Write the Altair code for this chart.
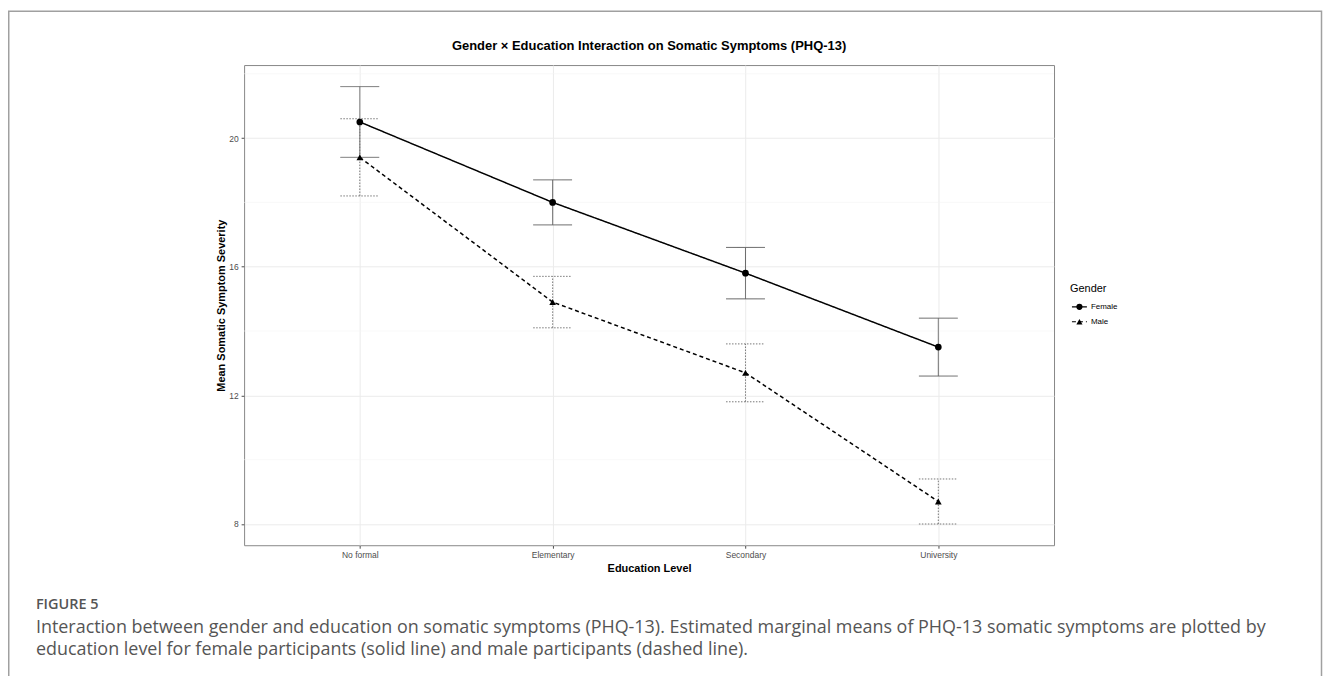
import altair as alt
import pandas as pd

# ---- data ----
education = ["No formal", "Elementary", "Secondary", "University"]
genders = ["Female", "Male"]
female_mean = [20.5, 18.0, 15.8, 13.5]
female_low = [19.4, 17.3, 15.0, 12.6]
female_high = [21.6, 18.7, 16.6, 14.4]
male_mean = [19.4, 14.9, 12.7, 8.7]
male_low = [18.2, 14.1, 11.8, 8.0]
male_high = [20.6, 15.7, 13.6, 9.4]
y_major = [8, 12, 16, 20]
y_minor = [10, 14, 18, 22]
y_domain = [7.34, 22.27]

title_text = "Gender \u00d7 Education Interaction on Somatic Symptoms (PHQ-13)"
x_title = "Education Level"
y_title = "Mean Somatic Symptom Severity"
legend_title = "Gender"
caption_label = "FIGURE 5"
caption_lines = [
    "Interaction between gender and education on somatic symptoms (PHQ-13). Estimated marginal means of PHQ-13 somatic symptoms are plotted by",
    "education level for female participants (solid line) and male participants (dashed line).",
]

rows = []
for i, e in enumerate(education):
    rows.append(dict(Education=e, Gender="Female", mean=female_mean[i],
                     low=female_low[i], high=female_high[i]))
    rows.append(dict(Education=e, Gender="Male", mean=male_mean[i],
                     low=male_low[i], high=male_high[i]))
df = pd.DataFrame(rows)

legend_df = pd.DataFrame({"Gender": genders})

W, H = 813, 482
PAD_L, PAD_T, PAD_R, PAD_B = 237, 56, 270, 130


def px(page_x):
    return page_x - 8 - PAD_L


def py(page_y):
    return page_y - 8 - PAD_T


y_scale = alt.Scale(domain=y_domain, nice=False, zero=False)
x_enc = alt.X("Education:N", sort=education,
              scale=alt.Scale(type="point", padding=0.6),
              axis=alt.Axis(title=x_title, labelAngle=0, grid=True,
                            gridColor="#ebebeb", gridWidth=1,
                            tickSize=3, labelPadding=2.5, titlePadding=3))
y_axis = alt.Axis(title=y_title, values=y_major, grid=True,
                  gridColor="#ebebeb", gridWidth=1, tickSize=3,
                  labelPadding=3, titlePadding=2)

dash_scale = alt.Scale(domain=genders, range=[[1, 0], [4, 3]])
shape_scale = alt.Scale(domain=genders, range=["circle", "triangle-up"])
err_style = {"Female": dict(color="#666666", strokeDash=[1, 0]),
             "Male": dict(color="#777777", strokeDash=[1.5, 1.5])}

base = alt.Chart(df)

minor = alt.Chart(pd.DataFrame({"v": y_minor})).mark_rule(
    color="#f3f3f3", strokeWidth=0.6
).encode(y=alt.Y("v:Q", scale=y_scale, axis=y_axis))

err_layers = []
for g in genders:
    sub = base.transform_filter(alt.datum.Gender == g)
    st = err_style[g]
    err_layers.append(sub.mark_rule(strokeWidth=1, **st).encode(
        x=x_enc,
        y=alt.Y("low:Q", scale=y_scale, axis=y_axis),
        y2="high:Q",
    ))
    for field in ["low", "high"]:
        err_layers.append(sub.mark_rule(strokeWidth=1, xOffset=-19.5,
                                        x2Offset=19.5, **st).encode(
            x=x_enc,
            x2=alt.X2("Education"),
            y=alt.Y(f"{field}:Q", scale=y_scale, axis=y_axis),
        ))

lines = base.mark_line(strokeWidth=1.5, color="black").encode(
    x=x_enc,
    y=alt.Y("mean:Q", scale=y_scale, axis=y_axis),
    strokeDash=alt.StrokeDash("Gender:N", scale=dash_scale, legend=None),
    detail="Gender:N",
)

points = base.mark_point(filled=True, color="black", opacity=1, size=45).encode(
    x=x_enc,
    y=alt.Y("mean:Q", scale=y_scale, axis=y_axis),
    shape=alt.Shape("Gender:N", scale=shape_scale, legend=None),
)

one = pd.DataFrame({"k": [0]})

frame = alt.Chart(one).mark_rect(
    filled=False, stroke="#a0a0a0", strokeWidth=1.5, clip=False
).encode(
    x=alt.value(px(8.75)), x2=alt.value(px(1326.5)),
    y=alt.value(py(10)), y2=alt.value(H + PAD_B + 40),
)

title_mark = alt.Chart(one).mark_text(
    align="center", baseline="middle", font="Liberation Sans", fontSize=13,
    fontWeight="bold", color="black"
).encode(x=alt.value(W / 2), y=alt.value(py(45)), text=alt.value(title_text))

cap_label = alt.Chart(one).mark_text(
    align="left", baseline="middle", font="Open Sans", fontSize=14.5,
    fontWeight=600, color="#555555"
).encode(x=alt.value(px(36)), y=alt.value(py(606)), text=alt.value(caption_label))

cap_text = alt.Chart(one).mark_text(
    align="left", baseline="middle", font="Open Sans", fontSize=18,
    color="#555555", lineHeight=22.5
).encode(x=alt.value(px(36)), y=alt.value(py(629)), text=alt.value(caption_lines))

main = alt.layer(
    minor, *err_layers, lines, points,
    frame, title_mark, cap_label, cap_text
)

# ---- legend (ggplot style: line + point keys) ----
leg_y = alt.Y("Gender:N", scale=alt.Scale(type="point", domain=genders,
                                          range=[py(306.7), py(321.7)], padding=0),
              axis=None)
leg_title = alt.Chart(one).mark_text(
    align="left", baseline="middle", font="Liberation Sans", fontSize=11,
    color="black"
).encode(x=alt.value(px(1074)), y=alt.value(py(289)), text=alt.value(legend_title))
leg_line = alt.Chart(legend_df).mark_rule(strokeWidth=1.2, color="black").encode(
    x=alt.value(px(1076)), x2=alt.value(px(1091)), y=leg_y,
    strokeDash=alt.StrokeDash("Gender:N", scale=dash_scale, legend=None),
)
leg_pt = alt.Chart(legend_df).mark_point(filled=True, color="black", opacity=1,
                                         size=38).encode(
    x=alt.value(px(1083.5)), y=leg_y,
    shape=alt.Shape("Gender:N", scale=shape_scale, legend=None),
)
leg_txt = alt.Chart(legend_df).mark_text(
    align="left", baseline="middle", font="Liberation Sans", fontSize=8,
    color="black"
).encode(x=alt.value(px(1095)), y=leg_y, text="Gender:N")

legend = alt.layer(leg_title, leg_line, leg_pt, leg_txt)

chart = alt.layer(main, legend).resolve_scale(
    y="independent"
).properties(
    width=W, height=H,
    autosize=alt.AutoSizeParams(type="none"),
    padding={"left": PAD_L, "top": PAD_T, "right": PAD_R, "bottom": PAD_B},
).configure_view(
    stroke="#888888", strokeWidth=1
).configure_axis(
    labelFont="Liberation Sans", labelFontSize=8.5, labelColor="#4d4d4d",
    tickColor="#4d4d4d", domain=False,
    titleFont="Liberation Sans", titleFontSize=11, titleFontWeight="bold",
    titleColor="black",
)

chart.save("out.html", embed_options={"renderer": "svg", "actions": False})
